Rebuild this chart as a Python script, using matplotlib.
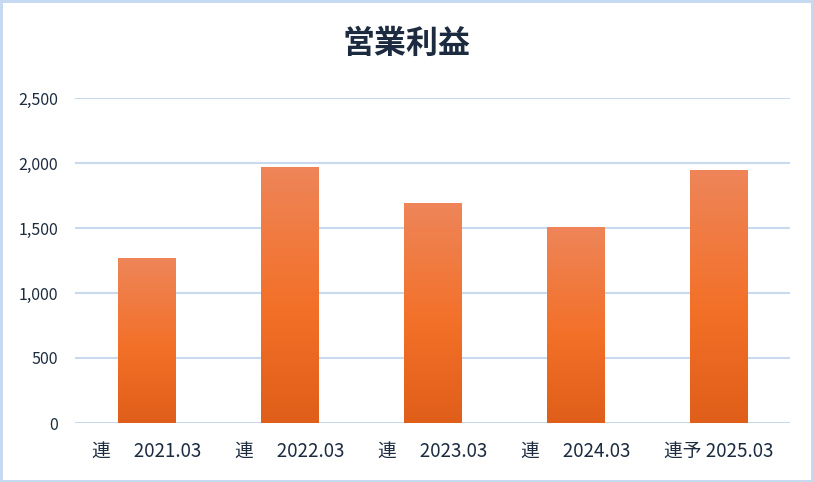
import numpy as np
import matplotlib.pyplot as plt
from matplotlib.colors import LinearSegmentedColormap

# data
categories = ['連　 2021.03', '連　 2022.03', '連　 2023.03', '連　 2024.03', '連予 2025.03']
values = [1270, 1970, 1692, 1508, 1946]
title = '営業利益'

textColor = '#1C2B3F'
gridColor = '#C9DAEE'
tickFont = ['Liberation Sans Narrow', 'Noto Sans CJK JP']

fig = plt.figure(figsize=(8.13, 4.82), dpi=100)
fig.patch.set_edgecolor('#C5D9F0')
fig.patch.set_linewidth(2.5)
ax = fig.add_axes([75/813, 59/482, 715/813, 325/482])

x = np.arange(len(categories))
bars = ax.bar(x, values, width=0.4, color='none', zorder=3)

# vertical gradient inside each bar
cmap = LinearSegmentedColormap.from_list('grad', [(0.0, '#DF5E19'), (0.45, '#F37028'), (1.0, '#EE8559')])
grad = np.linspace(0, 1, 256).reshape(-1, 1)
for b in bars:
    x0, w, h = b.get_x(), b.get_width(), b.get_height()
    im = ax.imshow(grad, cmap=cmap, origin='lower', aspect='auto',
                   extent=(x0, x0 + w, 0, h), zorder=3)
    im.set_clip_path(b)

ax.set_xlim(-0.5, len(categories) - 0.5)
ax.set_ylim(0, 2500)
ax.set_yticks(range(0, 2501, 500))
ax.set_yticklabels([f'{v:,}' for v in range(0, 2501, 500)], family=tickFont, fontsize=11.5, color=textColor)
ax.set_xticks(x)
ax.set_xticklabels(categories, family=tickFont, fontsize=13.5, color=textColor)
ax.tick_params(axis='both', length=0)
ax.tick_params(axis='x', pad=13)
ax.tick_params(axis='y', pad=12)
ax.grid(axis='y', color=gridColor, linewidth=1.5, zorder=0)
for s in ax.spines.values():
    s.set_visible(False)

fig.text(0.5, 1 - 44/482, title, ha='center', va='center', fontsize=23, fontweight='bold',
         color=textColor, family=['Noto Sans CJK JP'])

plt.savefig('out.png', dpi=100, edgecolor=fig.get_edgecolor())
